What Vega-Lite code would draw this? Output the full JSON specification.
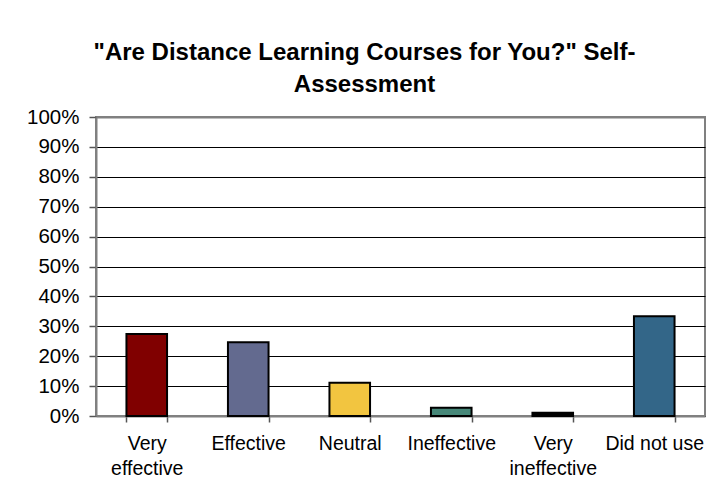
{
  "$schema": "https://vega.github.io/schema/vega-lite/v6.json",
  "width": 609,
  "height": 299,
  "autosize": {"type": "none"},
  "padding": {"left": 96, "top": 117, "right": 1, "bottom": 73},
  "background": "white",
  "title": {
    "text": ["\"Are Distance Learning Courses for You?\" Self-", "Assessment"],
    "font": "Liberation Sans",
    "fontSize": 24,
    "fontWeight": "bold",
    "color": "black",
    "anchor": "middle",
    "dx": -36,
    "offset": 10,
    "lineHeight": 32
  },
  "data": {
    "values": [
      {"response": "Very effective", "share": 0.274},
      {"response": "Effective", "share": 0.247},
      {"response": "Neutral", "share": 0.111},
      {"response": "Ineffective", "share": 0.028},
      {"response": "Very ineffective", "share": 0.011},
      {"response": "Did not use", "share": 0.334}
    ]
  },
  "mark": {"type": "bar", "stroke": "black", "strokeWidth": 2},
  "encoding": {
    "x": {
      "field": "response",
      "type": "nominal",
      "sort": null,
      "scale": {"paddingInner": 0.6, "paddingOuter": 0.3},
      "axis": {
        "title": null,
        "labelAngle": 0,
        "labelFont": "Liberation Sans",
        "labelFontSize": 19.5,
        "labelColor": "black",
        "labelPadding": 12,
        "labelLineHeight": 25,
        "labelExpr": "indexof(datum.label, 'Very') === 0 ? split(datum.label, ' ') : datum.label",
        "tickBand": "extent",
        "tickSize": 6,
        "tickColor": "#555555",
        "tickWidth": 1.5,
        "domainColor": "#808080",
        "domainWidth": 2,
        "grid": false
      }
    },
    "y": {
      "field": "share",
      "type": "quantitative",
      "scale": {"domain": [0, 1]},
      "axis": {
        "title": null,
        "format": ".0%",
        "values": [0, 0.1, 0.2, 0.3, 0.4, 0.5, 0.6, 0.7, 0.8, 0.9, 1],
        "labelFont": "Liberation Sans",
        "labelFontSize": 20.5,
        "labelColor": "black",
        "labelPadding": 10,
        "tickSize": 7,
        "tickColor": "#555555",
        "tickWidth": 1.5,
        "domainColor": "#808080",
        "domainWidth": 2,
        "grid": true,
        "gridColor": {"condition": {"test": "datum.value >= 1", "value": "#808080"}, "value": "black"},
        "gridWidth": {"condition": {"test": "datum.value >= 1", "value": 2}, "value": 1},
        "gridOpacity": 1
      }
    },
    "color": {
      "field": "response",
      "type": "nominal",
      "legend": null,
      "scale": {
        "domain": ["Very effective", "Effective", "Neutral", "Ineffective", "Very ineffective", "Did not use"],
        "range": ["#800000", "#636A8F", "#F2C540", "#468778", "#000000", "#336688"]
      }
    }
  },
  "config": {
    "view": {"stroke": "#808080", "strokeWidth": 2}
  }
}
